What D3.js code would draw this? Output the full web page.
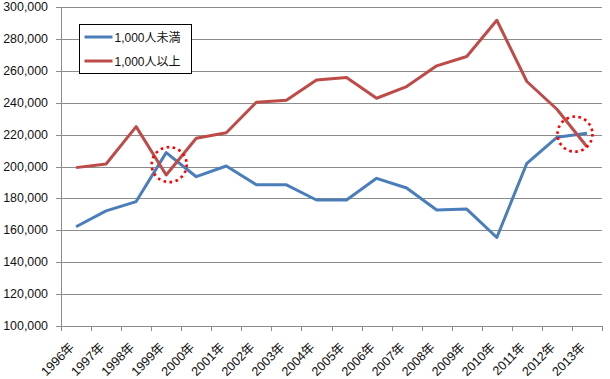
<!DOCTYPE html>
<html>
<head>
<meta charset="utf-8">
<script src="https://cdn.jsdelivr.net/npm/d3@7"></script>
<style>
  body { margin: 0; background: #fff; }
  text { font-family: "Liberation Sans", Arial, "Noto Sans CJK JP", sans-serif; font-size: 12px; fill: #111; }
</style>
</head>
<body>
<svg id="chart" width="610" height="379"></svg>
<script>
var years = ["1996年","1997年","1998年","1999年","2000年","2001年","2002年","2003年","2004年",
             "2005年","2006年","2007年","2008年","2009年","2010年","2011年","2012年","2013年"];
var under1000 = [162200,172200,178000,208700,193600,200300,188500,188500,179000,
                 179000,192600,186500,172700,173300,155500,202000,218300,220800];
var over1000 = [199300,201600,225000,194700,217700,221200,240300,241600,254300,
                255800,242800,250100,263100,269000,291700,253300,235900,212400];
var seriesNames = ["1,000人未満", "1,000人以上"];
var yTicks = [100000,120000,140000,160000,180000,200000,220000,240000,260000,280000,300000];
// dotted circles marking where the lines cross
var marks = [{year: "1999年", shift: 0.1, value: 201200}, {year: "2013年", shift: -0.4, value: 220300}];

var colors = ["#4a7ebb", "#be4b48"];
var svg = d3.select("#chart");
var plotLeft = 61, plotRight = 602, plotTop = 7, plotBottom = 326;

var x = d3.scaleBand().domain(years).range([plotLeft, plotRight]);
var y = d3.scaleLinear().domain([100000, 300000]).range([plotBottom, plotTop]);

// gridlines
svg.selectAll("line.grid").data(yTicks).enter().append("line")
    .attr("class", "grid")
    .attr("x1", plotLeft - 5).attr("x2", plotRight)
    .attr("y1", function (d) { return Math.round(y(d)) + 0.5; })
    .attr("y2", function (d) { return Math.round(y(d)) + 0.5; })
    .style("stroke", "#8c8c8c").style("stroke-width", 1);

svg.selectAll("text.ylab").data(yTicks).enter().append("text")
    .attr("class", "ylab")
    .attr("x", 48)
    .attr("y", function (d) { return y(d) + 4; })
    .attr("text-anchor", "end")
    .style("font-size", "12.4px")
    .text(function (d) { return d3.format(",")(d); });

// axes lines
svg.append("line").attr("x1", plotLeft + 0.5).attr("x2", plotLeft + 0.5).attr("y1", plotTop).attr("y2", plotBottom)
    .style("stroke", "#8c8c8c");

var bounds = years.map(function (d) { return x(d); }).concat([plotRight]);
svg.selectAll("line.xtick").data(bounds).enter().append("line")
    .attr("class", "xtick")
    .attr("x1", function (d) { return Math.round(d) + 0.5; })
    .attr("x2", function (d) { return Math.round(d) + 0.5; })
    .attr("y1", plotBottom).attr("y2", plotBottom + 5)
    .style("stroke", "#8c8c8c");

svg.selectAll("text.xlab").data(years).enter().append("text")
    .attr("class", "xlab")
    .attr("text-anchor", "end")
    .style("font-size", "12.6px")
    .attr("transform", function (d) {
        return "translate(" + (x(d) + x.bandwidth() / 2 - 1) + "," + (plotBottom + 22) + ") rotate(-45)";
    })
    .text(function (d) { return d; });

// lines
var line = d3.line()
    .x(function (d, i) { return x(years[i]) + x.bandwidth() / 2; })
    .y(function (d) { return y(d); });

[under1000, over1000].forEach(function (s, i) {
    svg.append("path")
        .attr("d", line(s))
        .style("fill", "none")
        .style("stroke", colors[i])
        .style("stroke-width", 3)
        .style("stroke-linejoin", "round");
});

// annotation circles
svg.selectAll("circle.mark").data(marks).enter().append("circle")
    .attr("class", "mark")
    .attr("cx", function (d) { return x(d.year) + x.bandwidth() * (0.5 + d.shift); })
    .attr("cy", function (d) { return y(d.value); })
    .attr("r", 17.5)
    .style("fill", "none")
    .style("stroke", "#ff0000")
    .style("stroke-width", 2.6)
    .style("stroke-dasharray", "2.6,3.5");

// legend
var legend = svg.append("g").attr("transform", "translate(79.5,24.5)");
legend.append("rect").attr("width", 112).attr("height", 49)
    .style("fill", "#fff").style("stroke", "#000");
seriesNames.forEach(function (name, i) {
    var ly = 12.5 + i * 24;
    legend.append("line").attr("x1", 5).attr("x2", 33).attr("y1", ly).attr("y2", ly)
        .style("stroke", colors[i]).style("stroke-width", 3);
    legend.append("text").attr("x", 35).attr("y", ly + 4.5).text(name);
});
</script>
</body>
</html>
